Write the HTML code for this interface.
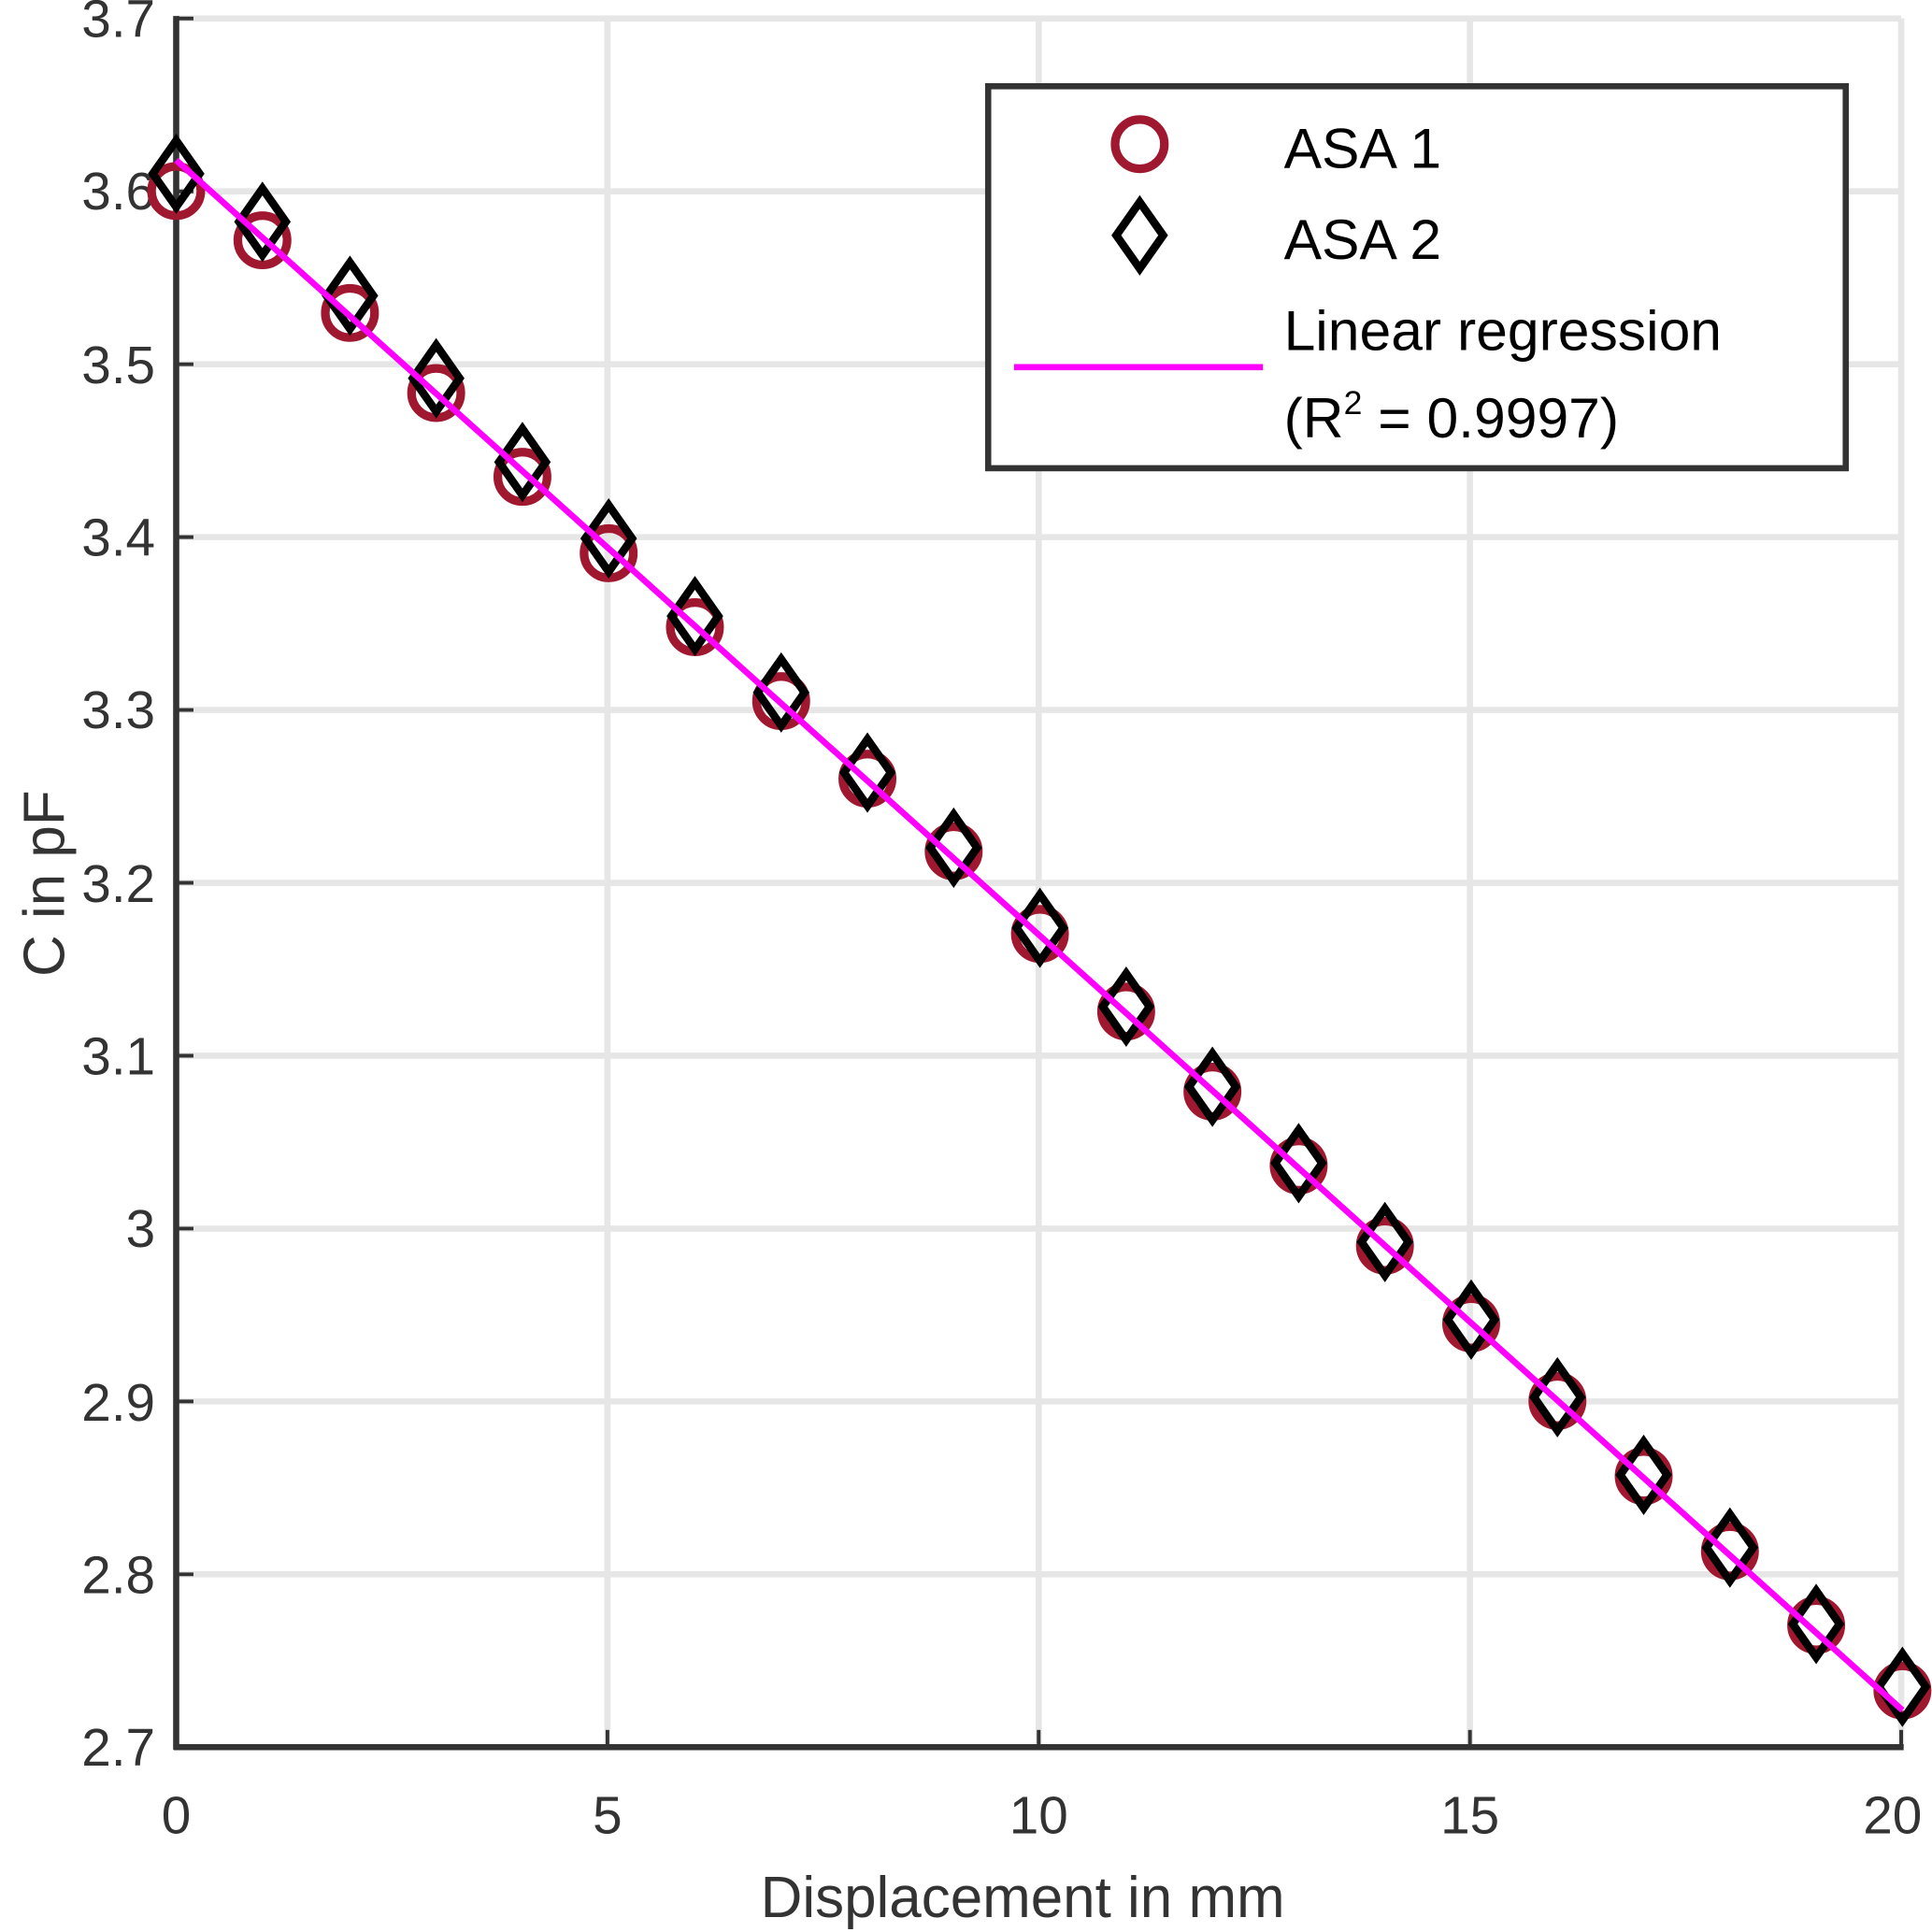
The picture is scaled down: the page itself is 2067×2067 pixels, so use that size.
<!DOCTYPE html>
<html><head><meta charset="utf-8"><style>html,body{margin:0;padding:0;background:#fff}svg{display:block}</style></head>
<body>
<svg width="2067" height="2067" viewBox="0 0 1568 1568" xmlns="http://www.w3.org/2000/svg" font-family="Liberation Sans, sans-serif">
<rect width="1568" height="1568" fill="#fff"/>
<g stroke="#e6e6e6" stroke-width="5">
<line x1="493" y1="15" x2="493" y2="1418"/><line x1="843" y1="15" x2="843" y2="1418"/><line x1="1193" y1="15" x2="1193" y2="1418"/><line x1="1543" y1="15" x2="1543" y2="1418"/>
<line x1="143" y1="15" x2="1543" y2="15"/><line x1="143" y1="155.3" x2="1543" y2="155.3"/><line x1="143" y1="295.6" x2="1543" y2="295.6"/><line x1="143" y1="435.9" x2="1543" y2="435.9"/><line x1="143" y1="576.2" x2="1543" y2="576.2"/><line x1="143" y1="716.5" x2="1543" y2="716.5"/><line x1="143" y1="856.8" x2="1543" y2="856.8"/><line x1="143" y1="997.1" x2="1543" y2="997.1"/><line x1="143" y1="1137.4" x2="1543" y2="1137.4"/><line x1="143" y1="1277.7" x2="1543" y2="1277.7"/>
</g>
<g stroke="#333" stroke-width="5" fill="none">
<line x1="143" y1="13" x2="143" y2="1420"/><line x1="141" y1="1418" x2="1545" y2="1418"/>
<g stroke-width="3">
<line x1="143" y1="15" x2="157" y2="15"/><line x1="143" y1="155.3" x2="157" y2="155.3"/><line x1="143" y1="295.6" x2="157" y2="295.6"/><line x1="143" y1="435.9" x2="157" y2="435.9"/><line x1="143" y1="576.2" x2="157" y2="576.2"/><line x1="143" y1="716.5" x2="157" y2="716.5"/><line x1="143" y1="856.8" x2="157" y2="856.8"/><line x1="143" y1="997.1" x2="157" y2="997.1"/><line x1="143" y1="1137.4" x2="157" y2="1137.4"/><line x1="143" y1="1277.7" x2="157" y2="1277.7"/>
<line x1="493" y1="1418" x2="493" y2="1404"/><line x1="843" y1="1418" x2="843" y2="1404"/><line x1="1193" y1="1418" x2="1193" y2="1404"/><line x1="1543" y1="1418" x2="1543" y2="1404"/>
</g></g>
<g fill="#333" font-size="43" text-anchor="end">
<text x="126" y="30">3.7</text><text x="126" y="170">3.6</text><text x="126" y="311">3.5</text><text x="126" y="451">3.4</text><text x="126" y="591">3.3</text><text x="126" y="732">3.2</text><text x="126" y="872">3.1</text><text x="126" y="1012">3</text><text x="126" y="1153">2.9</text><text x="126" y="1293">2.8</text><text x="126" y="1433">2.7</text>
</g>
<g fill="#333" font-size="43" text-anchor="middle">
<text x="143" y="1488">0</text><text x="493" y="1488">5</text><text x="843" y="1488">10</text><text x="1193" y="1488">15</text><text x="1536" y="1488">20</text>
<text x="830" y="1556" font-size="47">Displacement in mm</text>
<text transform="translate(52,717) rotate(-90)" font-size="47">C in pF</text>
</g>
<g fill="none" stroke="#a0182f" stroke-width="7">
<circle cx="143" cy="155" r="20"/><circle cx="213" cy="195" r="20"/><circle cx="284" cy="254" r="20"/><circle cx="354" cy="319" r="20"/><circle cx="424" cy="387" r="20"/><circle cx="494" cy="449" r="20"/><circle cx="564" cy="509" r="20"/><circle cx="634" cy="569" r="20"/><circle cx="704" cy="632" r="20"/><circle cx="774" cy="691" r="20"/><circle cx="844" cy="758" r="20"/><circle cx="914" cy="821" r="20"/><circle cx="984" cy="886" r="20"/><circle cx="1054" cy="946" r="20"/><circle cx="1124" cy="1011" r="20"/><circle cx="1194" cy="1074" r="20"/><circle cx="1264" cy="1137" r="20"/><circle cx="1334" cy="1198" r="20"/><circle cx="1404" cy="1259" r="20"/><circle cx="1474" cy="1319" r="20"/><circle cx="1544" cy="1372" r="20"/>
</g>
<g fill="none" stroke="#000" stroke-width="6.5">
<path d="M0,-27 L19,0 L0,27 L-19,0 Z" transform="translate(143,141)"/>
<path d="M0,-27 L19,0 L0,27 L-19,0 Z" transform="translate(213,180)"/><path d="M0,-27 L19,0 L0,27 L-19,0 Z" transform="translate(284,240)"/><path d="M0,-27 L19,0 L0,27 L-19,0 Z" transform="translate(354,307)"/><path d="M0,-27 L19,0 L0,27 L-19,0 Z" transform="translate(424,375)"/><path d="M0,-27 L19,0 L0,27 L-19,0 Z" transform="translate(494,437)"/><path d="M0,-27 L19,0 L0,27 L-19,0 Z" transform="translate(564,500)"/><path d="M0,-27 L19,0 L0,27 L-19,0 Z" transform="translate(634,562)"/><path d="M0,-27 L19,0 L0,27 L-19,0 Z" transform="translate(704,627)"/><path d="M0,-27 L19,0 L0,27 L-19,0 Z" transform="translate(774,688)"/><path d="M0,-27 L19,0 L0,27 L-19,0 Z" transform="translate(844,753)"/><path d="M0,-27 L19,0 L0,27 L-19,0 Z" transform="translate(914,817)"/><path d="M0,-27 L19,0 L0,27 L-19,0 Z" transform="translate(984,882)"/><path d="M0,-27 L19,0 L0,27 L-19,0 Z" transform="translate(1054,944)"/><path d="M0,-27 L19,0 L0,27 L-19,0 Z" transform="translate(1124,1008)"/><path d="M0,-27 L19,0 L0,27 L-19,0 Z" transform="translate(1194,1071)"/><path d="M0,-27 L19,0 L0,27 L-19,0 Z" transform="translate(1264,1134)"/><path d="M0,-27 L19,0 L0,27 L-19,0 Z" transform="translate(1334,1197)"/><path d="M0,-27 L19,0 L0,27 L-19,0 Z" transform="translate(1404,1256)"/><path d="M0,-27 L19,0 L0,27 L-19,0 Z" transform="translate(1474,1318)"/><path d="M0,-27 L19,0 L0,27 L-19,0 Z" transform="translate(1544,1369)"/>
</g>
<line x1="143" y1="130" x2="1544" y2="1388" stroke="#ff00ff" stroke-width="5"/>
<rect x="802" y="70" width="696" height="310" fill="#fff" stroke="#333" stroke-width="5"/>
<circle cx="925" cy="117" r="20" fill="none" stroke="#a0182f" stroke-width="7"/>
<path d="M925,164 L944,191 L925,218 L906,191 Z" fill="none" stroke="#000" stroke-width="6.5"/>
<line x1="823" y1="298" x2="1025" y2="298" stroke="#ff00ff" stroke-width="5"/>
<g fill="#000" font-size="46">
<text x="1042" y="136">ASA 1</text><text x="1042" y="210">ASA 2</text><text x="1042" y="284">Linear regression</text>
<text x="1042" y="355">(R<tspan font-size="27" dy="-19">2</tspan><tspan dy="19"> = 0.9997)</tspan></text>
</g>
</svg>
</body></html>
